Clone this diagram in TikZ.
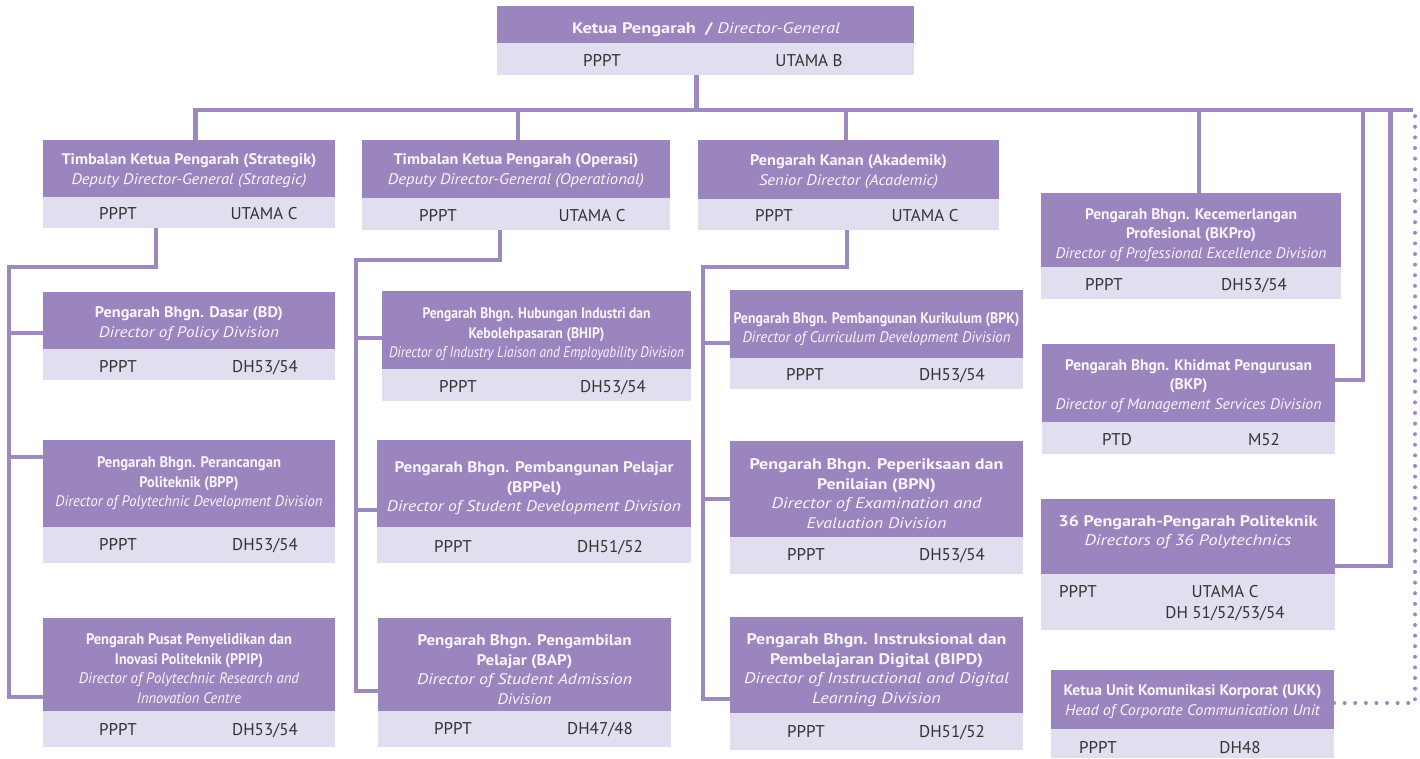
\documentclass[tikz,border=0pt]{standalone}
\usepackage{fontspec}
\setmainfont{PT Sans}
\usepackage{graphicx}
\usetikzlibrary{calc}
\definecolor{hdr}{HTML}{9B85BE}
\definecolor{lgt}{HTML}{E0DEEF}
\definecolor{lnc}{HTML}{9D88C0}
\definecolor{tgray}{HTML}{333333}
\definecolor{hwhite}{HTML}{F8F6FC}
\newcommand{\boldln}[2]{\resizebox{#1pt}{\height}{\bfseries #2}}
\newcommand{\italln}[2]{\resizebox{#1pt}{\height}{\itshape #2}}
\newcommand{\obox}[6]{%
  \node[hbox, minimum width={(#3-#2)*1pt}, minimum height={(#5-#4)*1pt}] (#1) at ({(#2+#3)/2},{(#4+#5)/2}) {};
  \node[lbox, minimum width={(#3-#2)*1pt}, minimum height={(#6-#5)*1pt}] (#1L) at ({(#2+#3)/2},{(#5+#6)/2}) {};}
\newcommand{\ltext}[4]{\node[ltxt] (#1) at (#2,#3) {#4};}
\begin{document}
\begin{tikzpicture}[x=1pt,y=-1pt,
  hbox/.style={fill=hdr,inner sep=0,outer sep=0,draw=none},
  lbox/.style={fill=lgt,inner sep=0,outer sep=0,draw=none},
  htxt/.style={text=hwhite,align=center,inner sep=0,yshift=-2pt,font=\fontsize{15.3}{19.6}\selectfont},
  ltxt/.style={text=tgray,inner sep=0,text height=12pt,text depth=0pt,font=\fontsize{17}{20}\selectfont},
  conn/.style={draw=lnc,line width=4.5pt},
  dotconn/.style={draw=lnc,line width=4pt,line cap=round,dash pattern=on 0pt off 10.6pt}]
\useasboundingbox (0,0) rectangle (1420,758);

% boxes
\obox{dg}{497}{914}{6}{43}{75}
\obox{strat}{43}{335}{140}{197}{228}
\obox{oper}{362}{670}{140}{198}{230}
\obox{akad}{698}{999}{140}{199}{230}
\obox{bd}{43}{335}{292}{349}{380}
\obox{bpp}{43}{335}{440}{527}{563}
\obox{ppip}{43}{335}{618}{711}{747}
\obox{bhip}{382}{691}{291}{369}{401}
\obox{bppel}{377}{691}{440}{527}{563}
\obox{bap}{378}{671}{618}{711}{747}
\obox{bpk}{730}{1023}{290}{358}{389}
\obox{bpn}{730}{1023}{441}{537}{574}
\obox{bipd}{730}{1023}{617}{713}{750}
\obox{bkpro}{1041}{1341}{193}{267}{299}
\obox{bkp}{1042}{1335}{344}{422}{454}
\obox{poli}{1041}{1335}{499}{574}{630}
\obox{ukk}{1051}{1334}{670}{729}{758}

% header texts
\node[htxt] (dgT) at ([xshift=0.5,yshift=-3.5]dg.center) {\resizebox{268pt}{\height}{\bfseries Ketua Pengarah\enspace/ \mdseries\itshape Director-General}};
\node[htxt] (stratT) at (strat.center) {\boldln{255}{Timbalan Ketua Pengarah (Strategik)}\\\italln{235}{Deputy Director-General (Strategic)}};
\node[htxt] (operT) at (oper.center) {\boldln{245}{Timbalan Ketua Pengarah (Operasi)}\\\italln{256}{Deputy Director-General (Operational)}};
\node[htxt] (akadT) at (akad.center) {\boldln{197}{Pengarah Kanan (Akademik)}\\\italln{179}{Senior Director (Academic)}};
\node[htxt] (bdT) at ([yshift=-1]bd.center) {\boldln{188}{Pengarah Bhgn. Dasar (BD)}\\\italln{180}{Director of Policy Division}};
\node[htxt] (bppT) at ([yshift=2]bpp.center) {\boldln{184}{Pengarah Bhgn. Perancangan}\\\boldln{99}{Politeknik (BPP)}\\\italln{267}{Director of Polytechnic Development Division}};
\node[htxt] (ppipT) at ([yshift=-2]ppip.center) {\boldln{206}{Pengarah Pusat Penyelidikan dan}\\\boldln{148}{Inovasi Politeknik (PPIP)}\\\italln{220}{Director of Polytechnic Research and}\\\italln{104}{Innovation Centre}};
\node[htxt] (bhipT) at ([yshift=-2.5]bhip.center) {\boldln{228}{Pengarah Bhgn. Hubungan Industri dan}\\\boldln{136}{Kebolehpasaran (BHIP)}\\\italln{295}{Director of Industry Liaison and Employability Division}};
\node[htxt] (bppelT) at ([yshift=-3]bppel.center) {\boldln{279}{Pengarah Bhgn. Pembangunan Pelajar}\\\boldln{55}{(BPPel)}\\\italln{294}{Director of Student Development Division}};
\node[htxt] (bapT) at ([yshift=-3]bap.center) {\boldln{214}{Pengarah Bhgn. Pengambilan}\\\boldln{96}{Pelajar (BAP)}\\\italln{215}{Director of Student Admission}\\\italln{54}{Division}};
\node[htxt] (bpkT) at ([yshift=-3]bpk.center) {\boldln{286}{Pengarah Bhgn. Pembangunan Kurikulum (BPK)}\\\italln{268}{Director of Curriculum Development Division}};
\node[htxt] (bpnT) at ([yshift=-2.5]bpn.center) {\boldln{254}{Pengarah Bhgn. Peperiksaan dan}\\\boldln{119}{Penilaian (BPN)}\\\italln{210}{Director of Examination and}\\\italln{140}{Evaluation Division}};
\node[htxt] (bipdT) at ([yshift=-3]bipd.center) {\boldln{260}{Pengarah Bhgn. Instruksional dan}\\\boldln{213}{Pembelajaran Digital (BIPD)}\\\italln{265}{Director of Instructional and Digital}\\\italln{129}{Learning Division}};
\node[htxt] (bkproT) at ([yshift=-3]bkpro.center) {\boldln{212}{Pengarah Bhgn. Kecemerlangan}\\\boldln{130}{Profesional (BKPro)}\\\italln{271}{Director of Professional Excellence Division}};
\node[htxt] (bkpT) at ([yshift=-1]bkp.center) {\boldln{247}{Pengarah Bhgn. Khidmat Pengurusan}\\\boldln{38}{(BKP)}\\\italln{266}{Director of Management Services Division}};
\node[htxt] (poliT) at ([yshift=6.5]poli.center) {\boldln{259}{36 Pengarah-Pengarah Politeknik}\\\italln{207}{Directors of 36 Polytechnics}};
\node[htxt] (ukkT) at (ukk.center) {\boldln{258}{Ketua Unit Komunikasi Korporat (UKK)}\\\italln{255}{Head of Corporate Communication Unit}};

% grade texts
\ltext{dgA}{602}{60}{PPPT}\ltext{dgB}{809}{60}{UTAMA B}
\ltext{stratA}{118}{213}{PPPT}\ltext{stratB}{264}{213}{UTAMA C}
\ltext{operA}{438}{215.5}{PPPT}\ltext{operB}{592}{215.5}{UTAMA C}
\ltext{akadA}{774}{215.5}{PPPT}\ltext{akadB}{925}{215.5}{UTAMA C}
\ltext{bdA}{118}{366.5}{PPPT}\ltext{bdB}{265}{366.5}{DH53/54}
\ltext{bppA}{118}{544}{PPPT}\ltext{bppB}{265}{544}{DH53/54}
\ltext{ppipA}{118}{729}{PPPT}\ltext{ppipB}{265}{729}{DH53/54}
\ltext{bhipA}{458}{386.5}{PPPT}\ltext{bhipB}{613}{386.5}{DH53/54}
\ltext{bppelA}{453}{546}{PPPT}\ltext{bppelB}{610}{546}{DH51/52}
\ltext{bapA}{453}{728.5}{PPPT}\ltext{bapB}{600}{728.5}{DH47/48}
\ltext{bpkA}{805}{374.5}{PPPT}\ltext{bpkB}{952}{374.5}{DH53/54}
\ltext{bpnA}{806}{554.5}{PPPT}\ltext{bpnB}{952}{554.5}{DH53/54}
\ltext{bipdA}{806}{731}{PPPT}\ltext{bipdB}{952}{731}{DH51/52}
\ltext{bkproA}{1104}{284.5}{PPPT}\ltext{bkproB}{1254}{284.5}{DH53/54}
\ltext{bkpA}{1117}{439}{PTD}\ltext{bkpB}{1264}{439}{M52}
\ltext{poliA}{1078}{591}{PPPT}\ltext{poliB}{1225}{591}{UTAMA C}\ltext{poliC}{1225}{612}{DH 51/52/53/54}
\ltext{ukkA}{1098}{747.5}{PPPT}\ltext{ukkB}{1240}{747.5}{DH48}

% connectors
\coordinate (busE) at (1413,110);
\coordinate (tapA) at (1363,110);
\coordinate (tapB) at (1390.5,110);
\coordinate (tapC) at (1415,110);
\draw[conn] ([xshift=6.5]strat.north) |- (busE);
\draw[conn] ([xshift=-9]dgL.south) |- (busE);
\draw[conn] ([xshift=2]oper.north) |- (busE);
\draw[conn] ([xshift=-2.5]akad.north) |- (busE);
\draw[conn] ([xshift=8]bkpro.north) |- (busE);
\draw[conn] ([yshift=3]bkp.east) -| (tapA);
\draw[conn] ([yshift=-29.5]poli.east) -| (tapB);
\draw[dotconn] ([yshift=-3.5]ukk.east) -| (tapC);

\coordinate (sC) at (9,267);
\draw[conn] ([xshift=-33]stratL.south) |- (sC) |- ([yshift=-32.5]ppip.west);
\draw[conn] ([yshift=-12.5]bd.west) -| (sC);
\draw[conn] ([yshift=26.5]bpp.west) -| (sC);

\coordinate (oC) at (356,260);
\draw[conn] ([xshift=-16]operL.south) |- (oC) |- ([yshift=-26.5]bap.west);
\draw[conn] ([yshift=-8]bhip.west) -| (oC);
\draw[conn] ([yshift=-26.5]bppel.west) -| (oC);

\coordinate (aC) at (703,267);
\draw[conn] ([xshift=-1.5]akadL.south) |- (aC) |- ([yshift=-34]bipd.west);
\draw[conn] ([yshift=-19]bpk.west) -| (aC);
\draw[conn] ([yshift=-10]bpn.west) -| (aC);
\end{tikzpicture}
\end{document}
